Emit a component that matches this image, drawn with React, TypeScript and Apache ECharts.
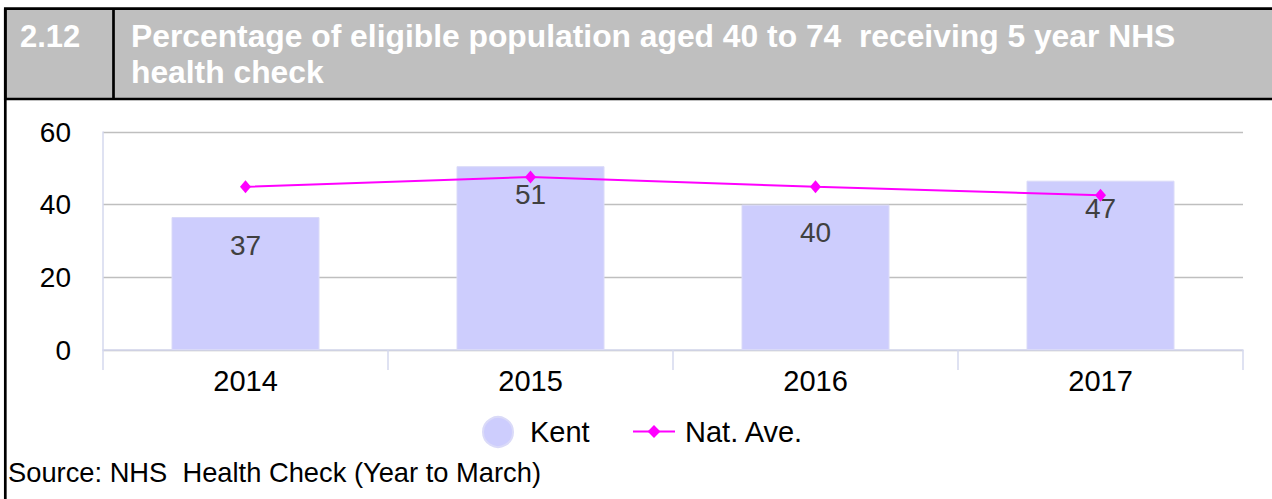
import React, { useEffect, useRef } from "react";
import * as echarts from "echarts";

const categories = ["2014", "2015", "2016", "2017"];
const kentValues = [36.6, 50.6, 40.0, 46.6];
const natAveValues = [44.9, 47.6, 44.9, 42.6];
const yTicks = { min: 0, max: 60, interval: 20 };
const sectionNumber = "2.12";
const titleLines = [
  "Percentage of eligible population aged 40 to 74  receiving 5 year NHS",
  "health check",
];
const sourceText = "Source: NHS  Health Check (Year to March)";

const FONT = "'Liberation Sans', Arial, Helvetica, sans-serif";
const AXIS_COLOR = "#D5D8EE";

export default function App() {
  const ref = useRef<HTMLDivElement>(null);

  useEffect(() => {
    if (!ref.current) return;
    const chart = echarts.init(ref.current, undefined, { renderer: "svg" });
    chart.setOption({
      animation: false,
      backgroundColor: "#ffffff",
      textStyle: { fontFamily: FONT },
      grid: { left: 103, top: 132, width: 1140, height: 218 },
      xAxis: {
        type: "category",
        data: categories,
        boundaryGap: true,
        axisLine: { show: true, lineStyle: { color: AXIS_COLOR, width: 1.5 } },
        axisTick: { show: true, length: 20, lineStyle: { color: AXIS_COLOR, width: 1.5 } },
        axisLabel: { color: "#000", fontSize: 29, fontFamily: FONT, margin: 16 },
        splitLine: { show: false },
      },
      yAxis: {
        type: "value",
        min: yTicks.min,
        max: yTicks.max,
        interval: yTicks.interval,
        axisLine: { show: true, lineStyle: { color: AXIS_COLOR, width: 1.5 } },
        axisTick: { show: false },
        axisLabel: {
          color: "#000",
          fontSize: 28,
          fontFamily: FONT,
          margin: 32,
          padding: [8, 0, 0, 0],
        },
        splitLine: { show: true, lineStyle: { color: "#BFBFBF", width: 1.4 } },
      },
      legend: [
        {
          data: [{ name: "Kent", icon: "circle" }],
          left: 477,
          top: 411,
          itemWidth: 54,
          itemHeight: 30,
          textStyle: { color: "#000", fontSize: 29, fontFamily: FONT },
          selectedMode: false,
        },
        {
          data: ["Nat. Ave."],
          left: 627,
          top: 412,
          itemWidth: 42,
          itemHeight: 16,
          textStyle: {
            color: "#000",
            fontSize: 29,
            fontFamily: FONT,
            padding: [0, 0, 0, 5],
          },
          selectedMode: false,
        },
      ],
      series: [
        {
          name: "Kent",
          type: "bar",
          data: kentValues,
          barWidth: 148,
          itemStyle: { color: "#CDCDFD", borderColor: "#DADAF8", borderWidth: 1 },
          label: {
            show: true,
            position: "insideTop",
            distance: 14,
            color: "#404040",
            fontSize: 28,
            fontFamily: FONT,
            formatter: (p: any) => String(Math.round(p.value)),
          },
          z: 2,
        },
        {
          name: "Nat. Ave.",
          type: "line",
          data: natAveValues,
          symbol: "diamond",
          symbolSize: [11, 13],
          lineStyle: { color: "#FF00FF", width: 2 },
          itemStyle: { color: "#FF00FF" },
          z: 3,
        },
      ],
      graphic: [
        {
          type: "rect",
          shape: { x: 5.3, y: 8.7, width: 1290, height: 90.3 },
          style: { fill: "#BFBFBF", stroke: "#000", lineWidth: 2.7 },
          z: 10,
        },
        {
          type: "line",
          shape: { x1: 5.3, y1: 8.7, x2: 5.3, y2: 520 },
          style: { stroke: "#000", lineWidth: 2.7 },
          z: 10,
        },
        {
          type: "line",
          shape: { x1: 113.5, y1: 8.7, x2: 113.5, y2: 99 },
          style: { stroke: "#000", lineWidth: 2.7 },
          z: 11,
        },
        {
          type: "text",
          x: 20,
          y: 36,
          style: {
            text: sectionNumber,
            fill: "#fff",
            font: `bold 31px ${FONT}`,
            verticalAlign: "middle",
          },
          z: 12,
        },
        {
          type: "text",
          x: 131,
          y: 36,
          style: {
            text: titleLines[0],
            fill: "#fff",
            font: `bold 31.8px ${FONT}`,
            verticalAlign: "middle",
          },
          z: 12,
        },
        {
          type: "text",
          x: 131,
          y: 72,
          style: {
            text: titleLines[1],
            fill: "#fff",
            font: `bold 31.8px ${FONT}`,
            verticalAlign: "middle",
          },
          z: 12,
        },
        {
          type: "text",
          x: 8,
          y: 472,
          style: {
            text: sourceText,
            fill: "#000",
            font: `27.3px ${FONT}`,
            verticalAlign: "middle",
          },
          z: 12,
        },
      ],
    });
    return () => chart.dispose();
  }, []);

  return (
    <div
      ref={ref}
      style={{ position: "fixed", left: 0, top: 0, width: 1272, height: 499 }}
    />
  );
}
